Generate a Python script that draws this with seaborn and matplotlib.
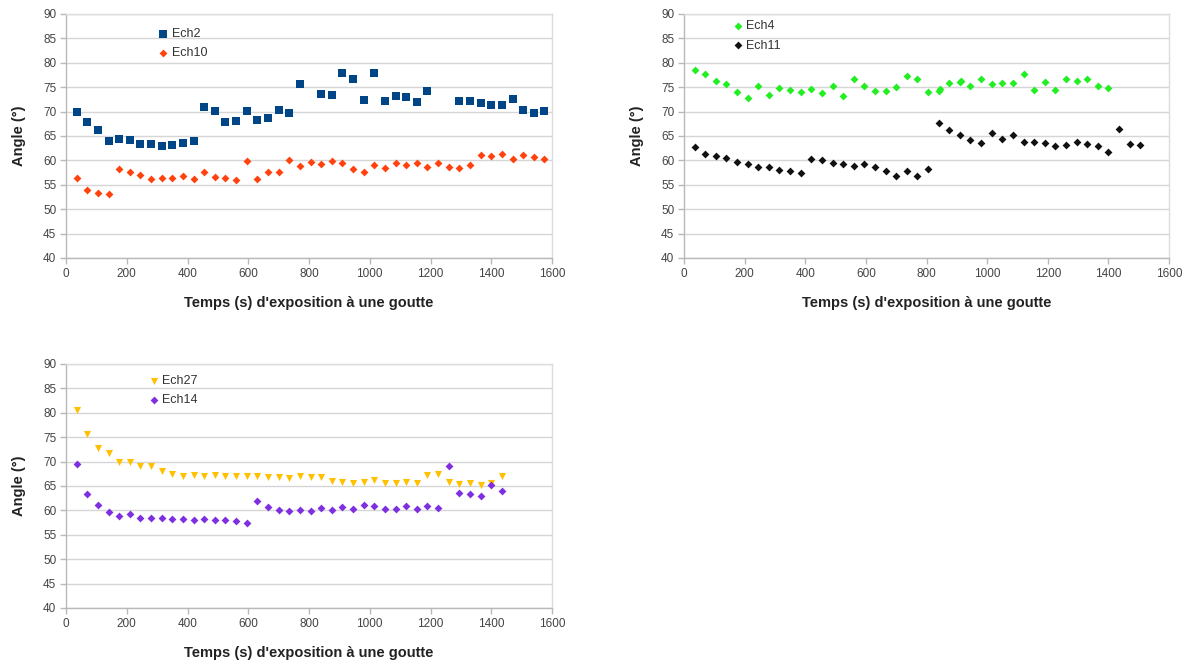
import matplotlib
matplotlib.use("Agg")
import matplotlib.pyplot as plt
import seaborn as sns

# === Données ===
# Graphique 1 : Ech2 / Ech10
t_ech2 = [35, 70, 105, 140, 175, 210, 245, 280, 315, 350, 385, 420, 455, 490, 525, 560,
          595, 630, 665, 700, 735, 770,
          840, 875, 910, 945, 980, 1015, 1050, 1085, 1120, 1155, 1190,
          1295, 1330, 1365, 1400, 1435, 1470, 1505, 1540, 1575]
ech2 = [70.0, 67.8, 66.3, 63.9, 64.4, 64.1, 63.4, 63.4, 62.9, 63.2, 63.5, 64.0, 71.0, 70.1,
        67.9, 68.0, 70.1, 68.2, 68.7, 70.3, 69.7, 75.7,
        73.6, 73.5, 78.0, 76.7, 72.4, 78.0, 72.2, 73.2, 72.9, 72.0, 74.3,
        72.1, 72.2, 71.7, 71.4, 71.4, 72.5, 70.3, 69.8, 70.1]

t_ech10 = [35, 70, 105, 140, 175, 210, 245, 280, 315, 350, 385, 420, 455, 490, 525, 560,
           595, 630, 665, 700, 735, 770, 805, 840, 875, 910, 945, 980, 1015, 1050, 1085,
           1120, 1155, 1190, 1225, 1260, 1295, 1330, 1365, 1400, 1435, 1470, 1505, 1540, 1575]
ech10 = [56.4, 53.9, 53.4, 53.1, 58.2, 57.7, 57.1, 56.1, 56.3, 56.3, 56.9, 56.2, 57.7, 56.7,
         56.3, 56.0, 59.9, 56.1, 57.7, 57.7, 60.1, 58.9, 59.7, 59.3, 59.9, 59.5, 58.2, 57.6,
         59.1, 58.5, 59.5, 59.1, 59.5, 58.6, 59.5, 58.7, 58.4, 59.0, 61.1, 60.9, 61.4, 60.3,
         61.2, 60.7, 60.3]

# Graphique 2 : Ech4 / Ech11
t_ech4 = [35, 70, 105, 140, 175, 210, 245, 280, 315, 350, 385, 420, 455, 490, 525, 560,
          595, 630, 665, 700, 735, 770, 805, 840, 843, 875, 910, 913, 945, 980, 1015, 1050,
          1085, 1120, 1155, 1190, 1225, 1260, 1295, 1330, 1365, 1400]
ech4 = [78.6, 77.8, 76.3, 75.7, 74.1, 72.8, 75.2, 73.3, 74.8, 74.5, 74.1, 74.6, 73.9, 75.2,
        73.2, 76.7, 75.2, 74.3, 74.3, 75.0, 77.3, 76.7, 74.1, 74.3, 74.6, 75.8, 76.0, 76.3,
        75.2, 76.7, 75.7, 75.8, 75.8, 77.8, 74.5, 76.1, 74.5, 76.7, 76.3, 76.7, 75.3, 74.9]

t_ech11 = [35, 70, 105, 140, 175, 210, 245, 280, 315, 350, 385, 420, 455, 490, 525, 560,
           595, 630, 665, 700, 735, 770, 805, 840, 875, 910, 945, 980, 1015, 1050, 1085,
           1120, 1155, 1190, 1225, 1260, 1295, 1330, 1365, 1400, 1435, 1470, 1505]
ech11 = [62.7, 61.4, 61.0, 60.5, 59.7, 59.3, 58.6, 58.6, 58.0, 57.8, 57.5, 60.3, 60.0, 59.5,
         59.3, 58.8, 59.2, 58.6, 57.8, 56.9, 57.8, 56.9, 58.2, 67.6, 66.2, 65.2, 64.2, 63.5,
         65.6, 64.4, 65.2, 63.7, 63.7, 63.5, 63.0, 63.1, 63.7, 63.3, 62.9, 61.8, 66.5, 63.4, 63.2]

# Graphique 3 : Ech27 / Ech14
t_ech27 = [35, 70, 105, 140, 175, 210, 245, 280, 315, 350, 385, 420, 455, 490, 525, 560,
           595, 630, 665, 700, 735, 770, 805, 840, 875, 910, 945, 980, 1015, 1050, 1085,
           1120, 1155, 1190, 1225, 1260, 1295, 1330, 1365, 1400, 1435]
ech27 = [80.6, 75.6, 72.8, 71.7, 69.9, 69.9, 69.0, 69.1, 68.0, 67.4, 67.1, 67.2, 67.0, 67.2,
         67.0, 67.0, 67.1, 67.0, 66.8, 66.8, 66.6, 67.0, 66.8, 66.8, 66.1, 65.8, 65.6, 65.9,
         66.3, 65.6, 65.6, 65.8, 65.6, 67.3, 67.4, 65.9, 65.5, 65.6, 65.2, 65.7, 67.0]

t_ech14 = t_ech27
ech14 = [69.6, 63.4, 61.1, 59.6, 58.9, 59.2, 58.5, 58.5, 58.5, 58.3, 58.2, 58.0, 58.3, 58.1,
         58.1, 57.9, 57.5, 61.9, 60.7, 60.0, 59.9, 60.1, 59.8, 60.4, 60.0, 60.7, 60.3, 61.1,
         60.9, 60.3, 60.2, 60.9, 60.2, 60.9, 60.4, 69.1, 63.5, 63.3, 62.9, 65.2, 63.9]

x_ticks = [0, 200, 400, 600, 800, 1000, 1200, 1400, 1600]
y_ticks = [40, 45, 50, 55, 60, 65, 70, 75, 80, 85, 90]
xlabel = "Temps (s) d'exposition à une goutte"
ylabel = "Angle (°)"

# === Style ===
sns.set_style("white")
plt.rcParams['font.family'] = ['Liberation Sans', 'DejaVu Sans']

W, H = 1189, 664
fig = plt.figure(figsize=(W / 100, H / 100), dpi=100)
ax1 = fig.add_axes([66 / W, 1 - 258 / H, 486 / W, 244 / H])
ax2 = fig.add_axes([684 / W, 1 - 258 / H, 485 / W, 244 / H])
ax3 = fig.add_axes([66 / W, 1 - 608 / H, 486 / W, 244 / H])


def mise_en_forme(ax, leg_x, leg_y):
    ax.set_xlim(0, 1600)
    ax.set_ylim(40, 90)
    ax.set_xticks(x_ticks)
    ax.set_yticks(y_ticks)
    ax.yaxis.grid(True, color='#d6d6d6', linewidth=1)
    ax.xaxis.grid(False)
    ax.set_axisbelow(True)
    for s in ax.spines.values():
        s.set_color('#dcdcdc')
        s.set_linewidth(1)
    ax.spines['left'].set_color('#b8b8b8')
    ax.spines['bottom'].set_color('#b8b8b8')
    ax.tick_params(axis='both', direction='out', length=4, width=1, color='#b8b8b8',
                   labelsize=8.5, labelcolor='#444444', pad=3,
                   bottom=True, left=True)
    ax.set_xlabel(xlabel, fontsize=10.5, fontweight='bold', color='#222222', labelpad=12)
    ax.set_ylabel(ylabel, fontsize=10.5, fontweight='bold', color='#222222', labelpad=12)
    leg = ax.legend(loc='upper left', bbox_to_anchor=(leg_x, leg_y), frameon=False,
                    fontsize=9, handletextpad=0.05, labelspacing=0.6, borderpad=0,
                    borderaxespad=0, handlelength=1.2)
    for txt in leg.get_texts():
        txt.set_color('#333333')


# === Graphique 1 ===
sns.scatterplot(x=t_ech2, y=ech2, ax=ax1, marker='s', color='#004586', s=30,
                linewidth=0, label='Ech2')
sns.scatterplot(x=t_ech10, y=ech10, ax=ax1, marker='D', color='#ff420e', s=16,
                linewidth=0, label='Ech10')
mise_en_forme(ax1, 0.185, 0.943)

# === Graphique 2 ===
sns.scatterplot(x=t_ech4, y=ech4, ax=ax2, marker='D', color='#22ee22', s=16,
                linewidth=0, label='Ech4')
sns.scatterplot(x=t_ech11, y=ech11, ax=ax2, marker='D', color='#111111', s=16,
                linewidth=0, label='Ech11')
mise_en_forme(ax2, 0.095, 0.975)

# === Graphique 3 ===
sns.scatterplot(x=t_ech27, y=ech27, ax=ax3, marker='v', color='#ffc000', s=26,
                linewidth=0, label='Ech27')
sns.scatterplot(x=t_ech14, y=ech14, ax=ax3, marker='D', color='#7f2fe0', s=16,
                linewidth=0, label='Ech14')
mise_en_forme(ax3, 0.165, 0.955)

fig.savefig('out.png', dpi=100)
